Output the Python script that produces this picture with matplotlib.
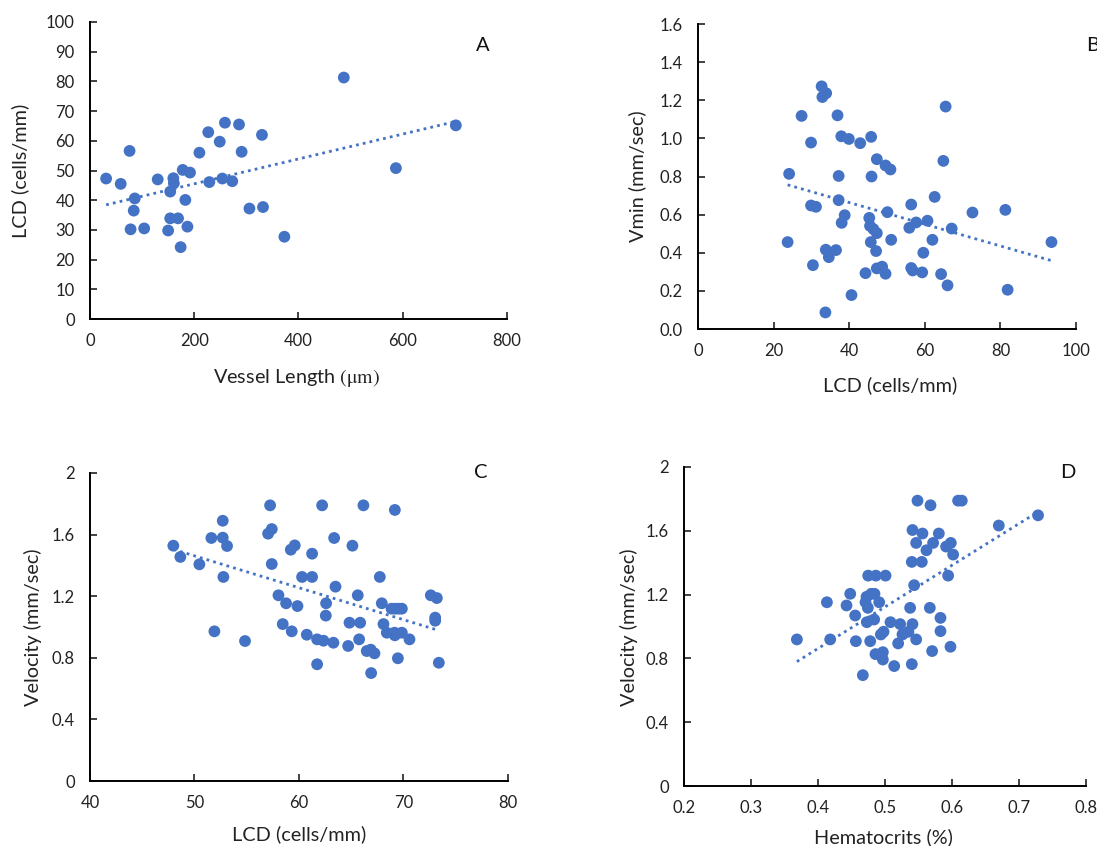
import numpy as np
import matplotlib
matplotlib.use('Agg')
import matplotlib.pyplot as plt
from matplotlib.ticker import FormatStrFormatter

plt.rcParams['font.family'] = ['Lato', 'DejaVu Sans']
plt.rcParams['mathtext.fontset'] = 'stix'

BLUE = '#4472C4'

# Panel A: vessel length vs LCD
a_len = [31, 59, 76, 86, 84, 78, 104, 130, 160, 161, 154, 154, 169, 150, 174, 183,
         187, 178, 192, 210, 227, 229, 249, 259, 254, 273, 286, 291, 306, 330, 332,
         373, 487, 587, 702]
a_lcd = [47.3, 45.5, 56.6, 40.6, 36.5, 30.2, 30.5, 47.0, 47.4, 45.7, 42.9, 33.9, 33.9,
         29.8, 24.2, 40.1, 31.1, 50.2, 49.3, 56.0, 62.9, 46.1, 59.7, 66.1, 47.3, 46.4,
         65.5, 56.3, 37.2, 62.0, 37.7, 27.7, 81.3, 50.8, 65.2]

# Panel B: LCD vs Vmin
b_lcd = [24.1, 23.7, 27.4, 29.9, 29.9, 31.2, 30.4, 32.7, 32.9, 33.9, 33.8, 34.6, 33.7,
         36.5, 36.9, 37.2, 37.2, 37.9, 38.8, 38.0, 39.9, 40.6, 42.9, 44.3, 45.8, 45.9,
         45.3, 45.5, 46.4, 47.3, 45.7, 47.1, 47.3, 49.6, 50.9, 50.1, 51.1, 47.3, 48.7,
         49.6, 56.4, 55.9, 57.7, 56.4, 56.8, 59.3, 59.6, 60.7, 62.0, 62.6, 64.3, 65.5,
         64.9, 66.0, 67.1, 72.6, 81.3, 81.9, 93.5]
b_vmin = [0.814, 0.456, 1.118, 0.978, 0.648, 0.641, 0.335, 1.273, 1.217, 1.237, 0.416,
          0.377, 0.087, 0.414, 1.121, 0.803, 0.676, 1.011, 0.597, 0.557, 0.997, 0.178,
          0.975, 0.293, 1.008, 0.800, 0.583, 0.541, 0.524, 0.503, 0.456, 0.409, 0.891,
          0.858, 0.837, 0.613, 0.468, 0.318, 0.327, 0.290, 0.653, 0.531, 0.559, 0.320,
          0.307, 0.297, 0.400, 0.568, 0.468, 0.693, 0.288, 1.167, 0.882, 0.229, 0.527,
          0.611, 0.625, 0.206, 0.456]

# Panel C: LCD vs velocity
c_lcd = [47.98, 48.65, 50.47, 51.62, 52.71, 52.71, 53.12, 52.77, 51.91, 54.84, 57.24,
         57.05, 57.40, 57.40, 58.04, 58.77, 58.45, 59.31, 59.22, 59.60, 59.86, 60.30,
         60.75, 61.26, 61.26, 61.74, 62.35, 61.74, 62.22, 62.60, 62.57, 63.37, 63.30,
         63.50, 65.12, 65.63, 64.84, 65.86, 65.76, 64.71, 66.17, 66.49, 66.87, 67.23,
         66.91, 67.74, 67.93, 68.09, 68.41, 68.86, 69.21, 69.53, 69.85, 69.18, 69.15,
         69.18, 69.85, 69.47, 70.58, 72.62, 73.20, 73.04, 73.04, 73.39]
c_vel = [1.528, 1.455, 1.407, 1.578, 1.690, 1.580, 1.526, 1.325, 0.972, 0.909, 1.790,
         1.606, 1.636, 1.409, 1.206, 1.154, 1.019, 0.972, 1.502, 1.530, 1.136, 1.325,
         0.950, 1.476, 1.325, 0.920, 0.911, 0.758, 1.790, 1.154, 1.074, 1.578, 0.898,
         1.262, 1.528, 1.206, 1.028, 1.028, 0.920, 0.877, 1.790, 0.844, 0.853, 0.829,
         0.701, 1.325, 1.154, 1.019, 0.963, 1.119, 1.119, 1.119, 1.119, 1.760, 0.963,
         0.946, 0.963, 0.797, 0.920, 1.206, 1.188, 1.061, 1.041, 0.768]

# Panel D: hematocrit vs velocity
d_hct = [0.3685, 0.4133, 0.4182, 0.4426, 0.4481, 0.4555, 0.4565, 0.4669, 0.4749, 0.4863,
         0.5008, 0.4724, 0.4794, 0.4843, 0.4709, 0.4744, 0.4913, 0.4729, 0.4838, 0.4779,
         0.4858, 0.4968, 0.4968, 0.4938, 0.4978, 0.5082, 0.5196, 0.5137, 0.5226, 0.5261,
         0.5350, 0.5410, 0.5375, 0.5465, 0.5400, 0.5400, 0.5549, 0.5435, 0.5410, 0.5465,
         0.5559, 0.5485, 0.5679, 0.5619, 0.5718, 0.5669, 0.5703, 0.5803, 0.5828, 0.5828,
         0.5912, 0.5982, 0.5942, 0.6017, 0.5977, 0.6091, 0.6146, 0.6698, 0.7284]
d_vel = [0.919, 1.152, 0.919, 1.132, 1.205, 1.069, 0.908, 0.695, 1.319, 1.319, 1.319,
         1.186, 1.205, 1.205, 1.152, 1.117, 1.152, 1.027, 1.044, 0.908, 0.827, 0.839,
         0.793, 0.950, 0.967, 1.027, 0.894, 0.752, 1.015, 0.950, 0.967, 1.015, 1.117,
         0.919, 0.764, 1.405, 1.405, 1.259, 1.605, 1.524, 1.583, 1.789, 1.760, 1.478,
         1.524, 1.117, 0.846, 1.583, 1.054, 0.971, 1.501, 1.524, 1.319, 1.451, 0.873,
         1.789, 1.789, 1.633, 1.697]

LABEL_SIZE = 14.3


def scatter_panel(ax, x, y, xlim, xticks, ylim, yticks):
    x = np.array(x)
    y = np.array(y)
    ax.scatter(x, y, s=72, color=BLUE, edgecolors='none', zorder=3)
    # linear trendline like excel
    k, b = np.polyfit(x, y, 1)
    xx = np.array([x.min(), x.max()])
    ax.plot(xx, k * xx + b, color=BLUE, linestyle=(0, (1, 1.5)), linewidth=2, zorder=2)
    ax.set_xlim(xlim)
    ax.set_ylim(ylim)
    ax.set_xticks(xticks)
    ax.set_yticks(yticks)
    for s in ['top', 'right']:
        ax.spines[s].set_visible(False)
    for s in ['left', 'bottom']:
        ax.spines[s].set_linewidth(1.4)
    ax.tick_params(direction='in', length=5, width=1.2, labelsize=12, colors='#222222')
    ax.tick_params(axis='y', pad=11)
    ax.tick_params(axis='x', pad=10)
    ax.set_facecolor('none')


fig = plt.figure(figsize=(10.97, 8.46), dpi=100)

axA = fig.add_axes([0.0820, 0.6229, 0.3801, 0.3511])
scatter_panel(axA, a_len, a_lcd, (0, 800), np.arange(0, 801, 200), (0, 100), np.arange(0, 101, 10))
axA.set_xlabel('Vessel Length $\\mathrm{(\u03bcm)}$', fontsize=LABEL_SIZE)
axA.set_ylabel('LCD (cells/mm)', fontsize=LABEL_SIZE)
axA.xaxis.set_label_coords(0.496, -0.199)
axA.yaxis.set_label_coords(-0.168, 0.50)

axB = fig.add_axes([0.6363, 0.6111, 0.3446, 0.3605])
scatter_panel(axB, b_lcd, b_vmin, (0, 100), np.arange(0, 101, 20), (0, 1.6), np.arange(0, 1.61, 0.2))
axB.yaxis.set_major_formatter(FormatStrFormatter('%.1f'))
axB.set_xlabel('LCD (cells/mm)', fontsize=LABEL_SIZE)
axB.set_ylabel('Vmin (mm/sec)', fontsize=LABEL_SIZE)
axB.xaxis.set_label_coords(0.508, -0.184)
axB.yaxis.set_label_coords(-0.161, 0.50)

axC = fig.add_axes([0.0820, 0.0768, 0.3810, 0.3641])
scatter_panel(axC, c_lcd, c_vel, (40, 80), np.arange(40, 81, 10), (0, 2), [0, 0.4, 0.8, 1.2, 1.6, 2])
axC.set_yticklabels(['0', '0.4', '0.8', '1.2', '1.6', '2'])
axC.set_xlabel('LCD (cells/mm)', fontsize=LABEL_SIZE)
axC.set_ylabel('Velocity (mm/sec)', fontsize=LABEL_SIZE)
axC.xaxis.set_label_coords(0.50, -0.172)
axC.yaxis.set_label_coords(-0.136, 0.50)

axD = fig.add_axes([0.6235, 0.0709, 0.3665, 0.3771])
scatter_panel(axD, d_hct, d_vel, (0.2, 0.8), [0.2, 0.3, 0.4, 0.5, 0.6, 0.7, 0.8], (0, 2), [0, 0.4, 0.8, 1.2, 1.6, 2])
axD.set_xticklabels(['0.2', '0.3', '0.4', '0.5', '0.6', '0.7', '0.8'])
axD.set_yticklabels(['0', '0.4', '0.8', '1.2', '1.6', '2'])
axD.set_xlabel('Hematocrits (%)', fontsize=LABEL_SIZE)
axD.set_ylabel('Velocity (mm/sec)', fontsize=LABEL_SIZE)
axD.xaxis.set_label_coords(0.495, -0.160)
axD.yaxis.set_label_coords(-0.137, 0.498)

for ax in [axA, axB, axC, axD]:
    ax.xaxis.label.set_va('center')
    ax.yaxis.label.set_va('center')
    ax.xaxis.label.set_color('#222222')
    ax.yaxis.label.set_color('#222222')

fig.text(0.4403, 0.9468, 'A', fontsize=14.5, ha='center', va='center', color='#111111')
fig.text(0.990, 0.9468, 'B', fontsize=14.5, ha='left', va='center', color='#111111')
fig.text(0.4385, 0.4409, 'C', fontsize=14.5, ha='center', va='center', color='#111111')
fig.text(0.9736, 0.4409, 'D', fontsize=14.5, ha='center', va='center', color='#111111')

fig.savefig('out.png', dpi=100, facecolor='white')
